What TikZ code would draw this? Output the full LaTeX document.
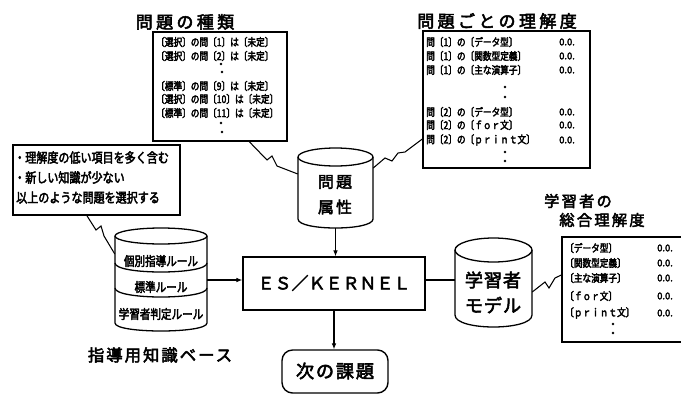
\documentclass[tikz,border=0pt]{standalone}
\usepackage{fontspec}
\setmainfont{Noto Sans CJK JP}[FakeBold=3]
\newfontfamily\narrowjp{Noto Sans CJK JP}[FakeBold=3,FakeStretch=0.82]
\usetikzlibrary{fit,calc,arrows.meta}
\newcommand{\fsz}[1]{\fontsize{#1}{#1}\selectfont}
\newcommand{\drawcyl}[5]{%
  \draw[cylline] (#1,#3) -- (#1,#4) .. controls (#1,{#4+1.333*#5}) and (#2,{#4+1.333*#5}) .. (#2,#4) -- (#2,#3);
  \draw[cylline] ({(#1+#2)/2},#3) ellipse [x radius={(#2-#1)/2}, y radius=#5];}
\tikzset{
  box/.style={draw, line width=1.2pt, inner sep=0pt},
  cylline/.style={line width=1.1pt},
  conn/.style={line width=0.9pt},
  arr/.style={line width=0.9pt, -{Latex[length=5pt,width=4pt]}},
  title/.style={font=\fsz{14.5pt}\addfontfeature{LetterSpace=20}, inner sep=0pt},
  subtitle/.style={font=\fsz{13pt}\addfontfeature{LetterSpace=15}, inner sep=0pt},
  item/.style={font=\narrowjp\fsz{9pt}, anchor=west, inner sep=0pt},
  val/.style={font=\fsz{8pt}, anchor=west, inner sep=0pt},
  kbtext/.style={font=\narrowjp\fsz{11pt}, inner sep=0pt},
  cyltext/.style={font=\fsz{13.5pt}\addfontfeature{LetterSpace=15}, inner sep=0pt},
  note/.style={font=\narrowjp\fsz{11.5pt}, anchor=west, inner sep=0pt},
}
\begin{document}
\begin{tikzpicture}[x=0.03cm,y=-0.03cm]
\useasboundingbox (0,0) rectangle (681,394);
\clip (0,0) rectangle (681,394);

% ---------- problem types ----------
\node[title] (t1) at (185,22) {問題の種類};
\node[box, fit={(153,32) (287,141)}] (types) {};
\node[item] (ty1) at (156,42)  {〔選択〕の問〔1〕は〔未定〕};
\node[item] (ty2) at (156,56)  {〔選択〕の問〔2〕は〔未定〕};
\node[item] (ty3) at (156,86)  {〔標準〕の問〔9〕は〔未定〕};
\node[item] (ty4) at (156,99)  {〔選択〕の問〔10〕は〔未定〕};
\node[item] (ty5) at (156,113) {〔標準〕の問〔11〕は〔未定〕};
\foreach \p in {(221,64),(222,72),(221,123),(222,132)} \fill \p circle (1.3);

% ---------- understanding per problem ----------
\node[title] (t2) at (497,21) {問題ごとの理解度};
\node[box, fit={(423,31) (590,168)}] (perq) {};
\foreach \y/\t in {42/問〔1〕の〔データ型〕, 56/問〔1〕の〔関数型定義〕, 70/問〔1〕の〔主な演算子〕,
                   112/問〔2〕の〔データ型〕, 125/問〔2〕の〔ｆｏｒ文〕, 140/問〔2〕の〔ｐｒｉｎｔ文〕}{
  \node[item] at (426,\y) {\t};
  \node[val] at (559,\y) {0.0.};
}
\foreach \p in {(505,87),(505,97),(505,152),(505,161)} \fill \p circle (1.3);

% ---------- problem attribute cylinder ----------
\drawcyl{298}{373}{157}{219}{9}
\node[fit={(298,148) (373,228)}, inner sep=0pt] (attr) {};
\node[cyltext] (attr1) at (335,182) {問題};
\node[cyltext] (attr2) at (335,207) {属性};

% ---------- note box ----------
\node[box, line width=1.6pt, fit={(13,145) (180,215)}] (notebox) {};
\node[note] (n1) at (14,157.5) {・理解度の低い項目を多く含む};
\node[note] (n2) at (14,177.5) {・新しい知識が少ない};
\node[note] (n3) at (16,197.5) {以上のような問題を選択する};

% ---------- knowledge base ----------
\drawcyl{115}{207}{236}{323}{8}
\draw[cylline] (115,263) .. controls (115,275) and (207,275) .. (207,263);
\draw[cylline] (115,288) .. controls (115,300) and (207,300) .. (207,288);
\node[fit={(115,228) (207,334)}, inner sep=0pt] (kb) {};
\node[kbtext] (kb1) at (161,261) {個別指導ルール};
\node[kbtext] (kb2) at (161,287) {標準ルール};
\node[kbtext] (kb3) at (161,314) {学習者判定ルール};
\node[subtitle, font=\fsz{14pt}\addfontfeature{LetterSpace=12}] (kbl) at (160,355) {指導用知識ベース};

% ---------- ES/KERNEL ----------
\node[box, fit={(243,257) (425,310)}] (es) {};
\node[font=\fsz{14.5pt}, inner sep=0pt] (estext) at (334,283) {ＥＳ／ＫＥＲＮＥＬ};

% ---------- next task ----------
\node[draw, line width=1.2pt, rounded corners=9pt, fit={(282,350) (388,393)}, inner sep=0pt] (next) {};
\node[font=\fsz{15.5pt}\addfontfeature{LetterSpace=10}, inner sep=0pt] (nexttext) at (335,371) {次の課題};

% ---------- learner model ----------
\drawcyl{455}{532}{250}{315}{12}
\node[fit={(455,238) (532,327)}, inner sep=0pt] (lm) {};
\node[cyltext, font=\fsz{15.5pt}\addfontfeature{LetterSpace=5}] (lm1) at (493,280) {学習者};
\node[cyltext, font=\fsz{15.5pt}\addfontfeature{LetterSpace=5}] (lm2) at (493,305) {モデル};

\node[subtitle] (t3) at (578,201) {学習者の};
\node[subtitle] (t4) at (602,220) {総合理解度};
\node[box, fit={(562,237) (690,342)}] (total) {};
\foreach \y/\t in {248/〔データ型〕, 263/〔関数型定義〕, 278/〔主な演算子〕, 296/〔ｆｏｒ文〕, 313/〔ｐｒｉｎｔ文〕}{
  \node[item] at (565,\y) {\t};
  \node[val] at (657,\y) {0.0.};
}
\foreach \p in {(613,324),(613,333)} \fill \p circle (1.3);

% ---------- connectors ----------
\draw[arr] (kb.east |- 0,280) -- (es.west |- 0,280);
\draw[conn] (es.east |- 0,280) -- (lm.west |- 0,280);
\draw[arr] (attr.south) -- (es.north -| attr.south);
\draw[arr] (es.south -| 334,0) -- (next.north -| 334,0);

% callout zigzags
\draw[conn] (types.south west) ++(97,0) -- (267,160) -- (272,156) -- (277,166) -- (attr.west |- 0,174);
\draw[conn] (attr.east |- 0,168) -- (385,158) -- (392,161) -- (398,153) -- (405,152) -- (perq.west |- 0,139);
\draw[conn] (notebox.south west) ++(75,0) -- (96,230) -- (101,226) -- (104,236) -- (kb.west |- 0,254);
\draw[conn] (lm.east |- 0,292) -- (545,282) -- (549,288) -- (555,278) -- (total.west |- 0,275);
\end{tikzpicture}
\end{document}
